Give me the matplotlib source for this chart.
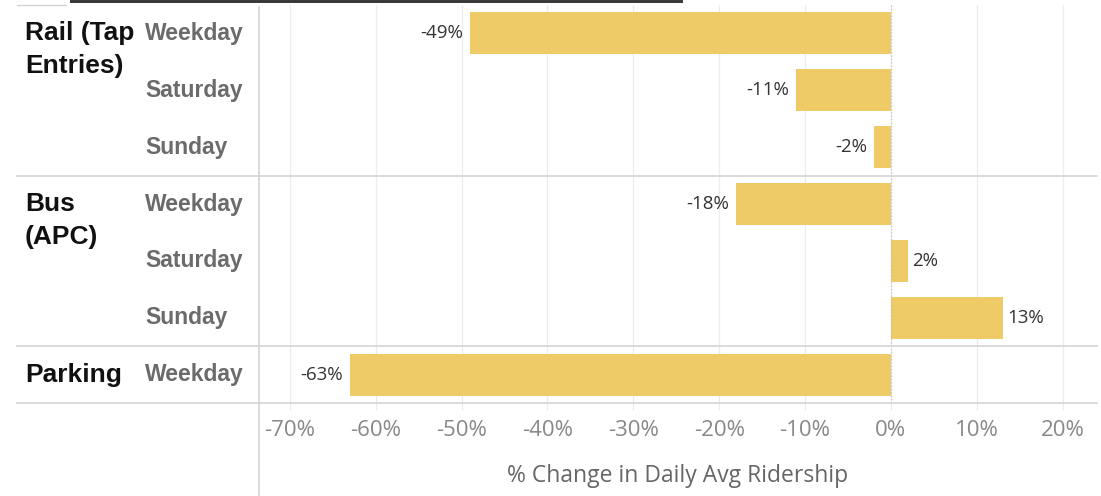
import matplotlib
matplotlib.use("Agg")
import matplotlib.pyplot as plt
from matplotlib.lines import Line2D
from matplotlib.patches import Rectangle

groups = [["Rail (Tap", "Entries)"], ["Bus", "(APC)"], ["Parking"]]
group_days = [["Weekday", "Saturday", "Sunday"],
              ["Weekday", "Saturday", "Sunday"],
              ["Weekday"]]
values = [-49, -11, -2, -18, 2, 13, -63]
ticks = [-70, -60, -50, -40, -30, -20, -10, 0, 10, 20]
tick_labels = [f"{t}%" for t in ticks]
xlabel = "% Change in Daily Avg Ridership"

W, H = 1101, 496
fig = plt.figure(figsize=(W / 100, H / 100), dpi=100)
fig.patch.set_facecolor("white")

ax_l, ax_r, ax_t, ax_b = 259, 1097, 5, 403
ax = fig.add_axes([ax_l / W, 1 - ax_b / H, (ax_r - ax_l) / W, (ax_b - ax_t) / H])

n = len(values)
ys = list(range(n))
bar_color = "#EFCB68"
ax.barh(ys, values, height=0.74, color=bar_color, zorder=3)
ax.set_ylim(n - 0.5, -0.5)
ax.set_xlim(-73.6, 24.0)

for t in ticks:
    ax.axvline(t, color="#ececec", lw=0.9, zorder=1)
ax.axvline(0, color="#bbbbbb", lw=0.8, ls=(0, (1, 2)), zorder=4)

for y, v in zip(ys, values):
    if v < 0:
        ax.text(v - 0.8, y, f"{v}%", ha="right", va="center", fontsize=13.5,
                color="#333333", family="Open Sans")
    else:
        ax.text(v + 0.5, y, f"{v}%", ha="left", va="center", fontsize=13.5,
                color="#333333", family="Open Sans")

ax.set_xticks(ticks)
ax.set_xticklabels(tick_labels, fontsize=16, color="#888888", family="Open Sans")
ax.tick_params(axis="x", length=5, color="#ececec", pad=7)
ax.set_yticks([])
for s in ax.spines.values():
    s.set_visible(False)
ax.set_xlabel(xlabel, fontsize=16.5, color="#666666", family="Open Sans", labelpad=17)

# Row labels
def ypix(row):
    return ax_t + (row + 0.5) * (ax_b - ax_t) / n

row = 0
for g, days in zip(groups, group_days):
    for i, line in enumerate(g):
        fig.text(25 / W, 1 - (ypix(row) + i * 33) / H, line, ha="left", va="center",
                 fontsize=19, fontweight="bold", color="#111111",
                 family="Liberation Sans")
    for d in days:
        fig.text(145 / W, 1 - ypix(row) / H, d, ha="left", va="center",
                 fontsize=16.5, fontweight="bold", color="#6b6b6b",
                 family="Liberation Sans")
        row += 1

# Separators
for yp in [176, 346, 403]:
    fig.add_artist(Line2D([17 / W, 1097 / W], [1 - yp / H, 1 - yp / H],
                          color="#d4d4d4", lw=1.2))
fig.add_artist(Line2D([259 / W, 259 / W], [0, 1 - 7 / H], color="#d4d4d4", lw=1.2))
fig.add_artist(Line2D([17 / W, 66 / W], [1 - 5 / H, 1 - 5 / H], color="#d4d4d4", lw=1.0))
fig.add_artist(Rectangle((70 / W, 1 - 3 / H), (683 - 70) / W, 3 / H,
                         transform=fig.transFigure, color="#3a3a3a", lw=0))

fig.savefig("out.png", dpi=100)
